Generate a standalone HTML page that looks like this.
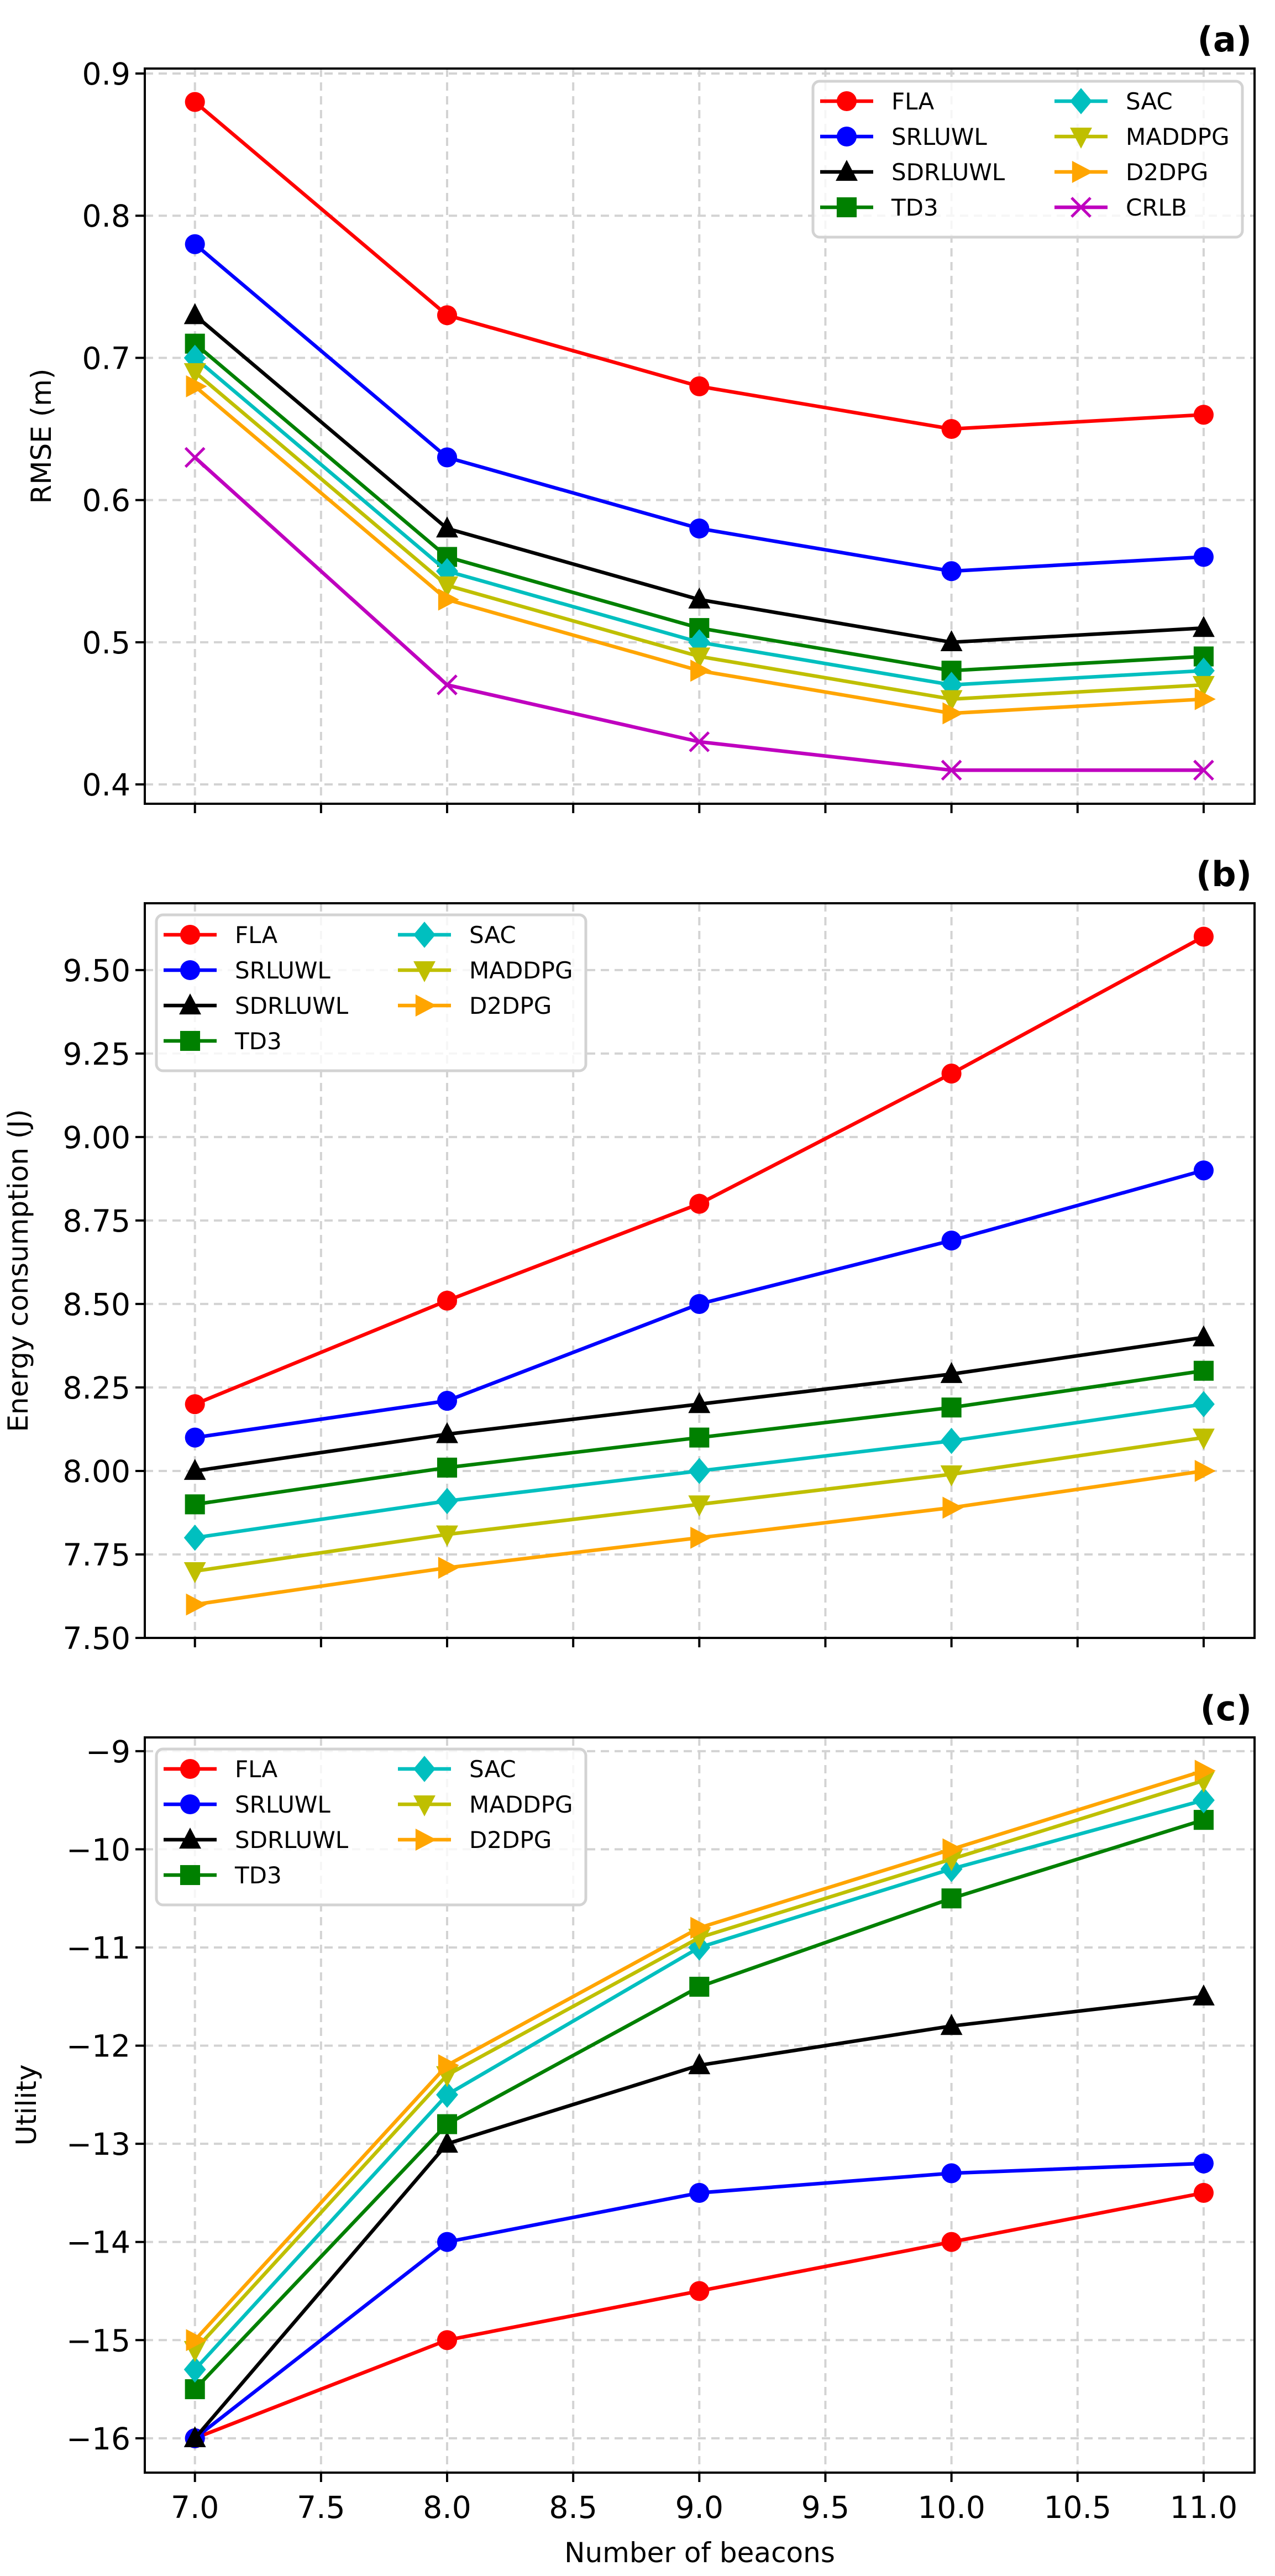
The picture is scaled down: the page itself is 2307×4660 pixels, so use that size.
<!DOCTYPE html>
<html><head><meta charset="utf-8"><style>
html,body{margin:0;padding:0;background:#fff;}
svg{display:block;font-family:"DejaVu Sans","Liberation Sans",sans-serif;}
</style></head><body>
<svg id="fig" xmlns="http://www.w3.org/2000/svg" width="2307" height="4660" viewBox="0 0 2307 4660"></svg>
<script>
const xCats = [7, 8, 9, 10, 11];
const xTicks = [7.0, 7.5, 8.0, 8.5, 9.0, 9.5, 10.0, 10.5, 11.0];
const xTickLabels = ["7.0","7.5","8.0","8.5","9.0","9.5","10.0","10.5","11.0"];
const seriesNames = ["FLA","SRLUWL","SDRLUWL","TD3","SAC","MADDPG","D2DPG","CRLB"];
const seriesColors = ["#ff0000","#0000ff","#000000","#008000","#00bfbf","#bfbf00","#ffa500","#bf00bf"];
const seriesMarkers = ["o","o","^","s","D","v",">","x"];

const rmseFLA = [0.88,0.73,0.68,0.65,0.66];
const rmseSRLUWL = [0.78,0.63,0.58,0.55,0.56];
const rmseSDRLUWL = [0.73,0.58,0.53,0.50,0.51];
const rmseTD3 = [0.71,0.56,0.51,0.48,0.49];
const rmseSAC = [0.70,0.55,0.50,0.47,0.48];
const rmseMADDPG = [0.69,0.54,0.49,0.46,0.47];
const rmseD2DPG = [0.68,0.53,0.48,0.45,0.46];
const rmseCRLB = [0.63,0.47,0.43,0.41,0.41];
const rmseTicks = [0.4,0.5,0.6,0.7,0.8,0.9];
const rmseTickLabels = ["0.4","0.5","0.6","0.7","0.8","0.9"];

const enFLA = [8.20,8.51,8.80,9.19,9.60];
const enSRLUWL = [8.10,8.21,8.50,8.69,8.90];
const enSDRLUWL = [8.00,8.11,8.20,8.29,8.40];
const enTD3 = [7.90,8.01,8.10,8.19,8.30];
const enSAC = [7.80,7.91,8.00,8.09,8.20];
const enMADDPG = [7.70,7.81,7.90,7.99,8.10];
const enD2DPG = [7.60,7.71,7.80,7.89,8.00];
const enTicks = [7.50,7.75,8.00,8.25,8.50,8.75,9.00,9.25,9.50];
const enTickLabels = ["7.50","7.75","8.00","8.25","8.50","8.75","9.00","9.25","9.50"];

const utFLA = [-16,-15,-14.5,-14,-13.5];
const utSRLUWL = [-16,-14,-13.5,-13.3,-13.2];
const utSDRLUWL = [-16,-13,-12.2,-11.8,-11.5];
const utTD3 = [-15.5,-12.8,-11.4,-10.5,-9.7];
const utSAC = [-15.3,-12.5,-11.0,-10.2,-9.5];
const utMADDPG = [-15.1,-12.3,-10.9,-10.1,-9.3];
const utD2DPG = [-15.0,-12.2,-10.8,-10.0,-9.2];
const utTicks = [-16,-15,-14,-13,-12,-11,-10,-9];
const utTickLabels = ["\u221216","\u221215","\u221214","\u221213","\u221212","\u221211","\u221210","\u22129"];

const NS = "http://www.w3.org/2000/svg";
const svg = document.getElementById("fig");
function mk(tag, attrs, parent){
  const e = document.createElementNS(NS, tag);
  for (const k in attrs) e.setAttribute(k, attrs[k]);
  (parent||svg).appendChild(e);
  return e;
}
const AX_L = 262, AX_R = 2270;
function xScale(v){ return 352.7 + (v - 7) * 456.3; }

function marker(g, type, cx, cy, color, s){
  let el;
  const r = s;
  if (type === "o") el = mk("circle", {cx:cx, cy:cy, r:r*0.95, fill:color}, g);
  else if (type === "^") el = mk("polygon", {points:`${cx},${cy-r*1.15} ${cx-r*1.05},${cy+r*0.85} ${cx+r*1.05},${cy+r*0.85}`, fill:color}, g);
  else if (type === "v") el = mk("polygon", {points:`${cx},${cy+r*1.15} ${cx-r*1.05},${cy-r*0.85} ${cx+r*1.05},${cy-r*0.85}`, fill:color}, g);
  else if (type === ">") el = mk("polygon", {points:`${cx+r*1.15},${cy} ${cx-r*0.85},${cy-r*1.05} ${cx-r*0.85},${cy+r*1.05}`, fill:color}, g);
  else if (type === "s") el = mk("rect", {x:cx-r*0.95, y:cy-r*0.95, width:r*1.9, height:r*1.9, fill:color}, g);
  else if (type === "D") el = mk("polygon", {points:`${cx},${cy-r*1.25} ${cx+r*1.05},${cy} ${cx},${cy+r*1.25} ${cx-r*1.05},${cy}`, fill:color}, g);
  else if (type === "x") el = mk("path", {d:`M${cx-r*0.9},${cy-r*0.9}L${cx+r*0.9},${cy+r*0.9}M${cx-r*0.9},${cy+r*0.9}L${cx+r*0.9},${cy-r*0.9}`, stroke:color, "stroke-width":5, fill:"none"}, g);
  return el;
}

function panel(cfg){
  const {top, bottom, yMin, yMax, series, ticks, tickLabels, ylabel, ylabelX, tag, legend, showX, name} = cfg;
  const yScale = v => bottom - (v - yMin) / (yMax - yMin) * (bottom - top);
  const g = mk("g", {});
  
  
  // grid
  const grid = mk("g", {stroke:"#d3d3d3","stroke-width":4,"stroke-dasharray":"15,10"}, g);
  
  
  xTicks.forEach(t => mk("line", {x1:xScale(t), x2:xScale(t), y1:top, y2:bottom}, grid));
  ticks.forEach(t => mk("line", {x1:AX_L, x2:AX_R, y1:yScale(t), y2:yScale(t)}, grid));
  // series
  series.forEach((s, i) => {
    const sg = mk("g", {}, g);
    
    
    const pts = s.map((v, j) => `${xScale(xCats[j])},${yScale(v)}`).join(" ");
    mk("polyline", {points:pts, fill:"none", stroke:seriesColors[i], "stroke-width":6.5, "stroke-linejoin":"round"}, sg);
    s.forEach((v, j) => {
      const m = marker(sg, seriesMarkers[i], xScale(xCats[j]), yScale(v), seriesColors[i], 19);
      
      
    });
  });
  // spines
  const fr = mk("rect", {x:AX_L, y:top, width:AX_R-AX_L, height:bottom-top, fill:"none", stroke:"#000","stroke-width":4}, g);
  
  
  // y ticks
  ticks.forEach((t, k) => {
    const y = yScale(t);
    mk("line", {x1:AX_L-17, x2:AX_L, y1:y, y2:y, stroke:"#000","stroke-width":4}, g);
    const tx = mk("text", {x:AX_L-26, y:y+20, "text-anchor":"end", "font-size":55}, g);
    tx.textContent = tickLabels[k];
    
    
  });
  // x ticks
  xTicks.forEach((t, k) => {
    const x = xScale(t);
    mk("line", {x1:x, x2:x, y1:bottom, y2:bottom+17, stroke:"#000","stroke-width":4}, g);
    if (showX) {
      const tx = mk("text", {x:x, y:bottom+82, "text-anchor":"middle", "font-size":55}, g);
      tx.textContent = xTickLabels[k];
      
      
    }
  });
  // y label
  const cy = (top + bottom) / 2;
  const yl = mk("text", {x:ylabelX, y:cy, "text-anchor":"middle", "font-size":50, transform:`rotate(-90 ${ylabelX} ${cy})`}, g);
  yl.textContent = ylabel;
  
  
  // tag
  const tg = mk("text", {x:2265, y:top-31, "text-anchor":"end", "font-size":62, "font-weight":"bold"}, g);
  tg.textContent = tag;
  
  
  // legend
  const lg = mk("g", {}, g);
  
  
  const L = legend.left, T = legend.top;
  mk("rect", {x:L, y:T, width:777, height:282, rx:12, fill:"#fff", "fill-opacity":0.8, stroke:"#d3d3d3","stroke-width":5}, lg);
  series.forEach((s, i) => {
    const col = i < 4 ? 0 : 1, row = i % 4;
    const hx = L + 13 + col * 424, ry = T + 36 + row * 64;
    const eg = mk("g", {}, lg);
    
    
    mk("line", {x1:hx, x2:hx+96, y1:ry, y2:ry, stroke:seriesColors[i], "stroke-width":6.5}, eg);
    marker(eg, seriesMarkers[i], hx+48, ry, seriesColors[i], 19);
    const t = mk("text", {x:hx+129, y:ry+15, "font-size":42}, eg);
    t.textContent = seriesNames[i];
  });
}

panel({name:"panel-a-rmse", top:124, bottom:1454, yMin:0.3864, yMax:0.9035,
  series:[rmseFLA,rmseSRLUWL,rmseSDRLUWL,rmseTD3,rmseSAC,rmseMADDPG,rmseD2DPG,rmseCRLB],
  ticks:rmseTicks, tickLabels:rmseTickLabels, ylabel:"RMSE (m)", ylabelX:92, tag:"(a)",
  legend:{left:1471, top:147}, showX:false});
panel({name:"panel-b-energy", top:1634, bottom:2963, yMin:7.50, yMax:9.70,
  series:[enFLA,enSRLUWL,enSDRLUWL,enTD3,enSAC,enMADDPG,enD2DPG],
  ticks:enTicks, tickLabels:enTickLabels, ylabel:"Energy consumption (J)", ylabelX:50, tag:"(b)",
  legend:{left:283, top:1655}, showX:false});
panel({name:"panel-c-utility", top:3143, bottom:4473, yMin:-16.35, yMax:-8.86,
  series:[utFLA,utSRLUWL,utSDRLUWL,utTD3,utSAC,utMADDPG,utD2DPG],
  ticks:utTicks, tickLabels:utTickLabels, ylabel:"Utility", ylabelX:65, tag:"(c)",
  legend:{left:283, top:3164}, showX:true});

const xl = mk("text", {x:(AX_L+AX_R)/2, y:4635, "text-anchor":"middle", "font-size":50});
xl.textContent = "Number of beacons";


</script>
</body></html>
